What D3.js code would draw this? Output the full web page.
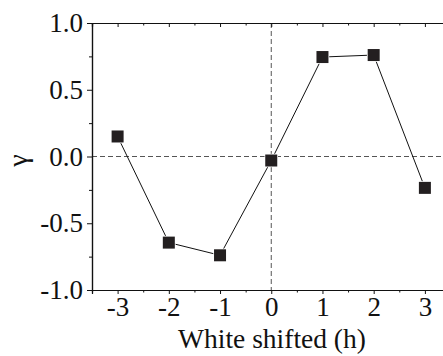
<!DOCTYPE html>
<html>
<head>
<meta charset="utf-8">
<script src="https://cdn.jsdelivr.net/npm/d3@7"></script>
<style>
  body { margin: 0; background: #fff; }
  svg { display: block; overflow: hidden; }
</style>
</head>
<body>
<svg id="chart" width="443" height="356"></svg>
<script>
// data
const shifts = [-3, -2, -1, 0, 1, 2, 3];
const gamma = [0.15, -0.645, -0.74, -0.03, 0.745, 0.76, -0.235];
const xTicks = [-3, -2, -1, 0, 1, 2, 3];
const yTicks = [-1.0, -0.5, 0.0, 0.5, 1.0];

const plotL = 92, plotT = 23, plotB = 290, plotR = 450.5;
const serif = "'Liberation Serif', 'Times New Roman', serif";

const svg = d3.select("#chart");

const x = d3.scaleLinear().domain([-3.5, 3.5]).range([plotL, plotR]);
const y = d3.scaleLinear().domain([-1, 1]).range([plotB, plotT]);

// zero reference lines
svg.append("line")
  .attr("x1", x(0)).attr("x2", x(0))
  .attr("y1", plotT).attr("y2", plotB)
  .attr("stroke", "#555").attr("stroke-width", 1)
  .attr("stroke-dasharray", "5,3");
svg.append("line")
  .attr("x1", plotL).attr("x2", plotR)
  .attr("y1", y(0)).attr("y2", y(0))
  .attr("stroke", "#555").attr("stroke-width", 1)
  .attr("stroke-dasharray", "5,3");

// axes
const minorX = d3.range(-3.5, 3.6, 0.5).filter(d => !xTicks.includes(d));
const minorY = d3.range(-1, 1.01, 0.25).map(d => +d.toFixed(2)).filter(d => !yTicks.includes(d));

const gx = svg.append("g").attr("transform", `translate(0,${plotB})`)
  .call(d3.axisBottom(x).tickValues(xTicks).tickSize(4).tickPadding(3).tickFormat(d => String(d)));
gx.append("g").call(d3.axisBottom(x).tickValues(minorX).tickSize(2.5).tickFormat(""));

const gt = svg.append("g").attr("transform", `translate(0,${plotT})`)
  .call(d3.axisBottom(x).tickValues(xTicks).tickSize(4).tickFormat(""));
gt.append("g").call(d3.axisBottom(x).tickValues(minorX).tickSize(2.5).tickFormat(""));

const gy = svg.append("g").attr("transform", `translate(${plotL},0)`)
  .call(d3.axisLeft(y).tickValues(yTicks).tickSize(5).tickPadding(4).tickFormat(d => d.toFixed(1)));
gy.append("g").call(d3.axisLeft(y).tickValues(minorY).tickSize(3).tickFormat(""));

svg.selectAll(".domain").attr("stroke", "#111").attr("stroke-width", 1.2);
svg.selectAll(".tick line").attr("stroke", "#111").attr("stroke-width", 1);
svg.selectAll(".tick text")
  .style("font-family", serif)
  .style("font-size", "27px")
  .attr("fill", "#111");

// series
const pts = shifts.map((s, i) => [s, gamma[i]]);
svg.append("path")
  .datum(pts)
  .attr("fill", "none")
  .attr("stroke", "#111")
  .attr("stroke-width", 1)
  .attr("d", d3.line().x(d => x(d[0])).y(d => y(d[1])));

const sz = 12;
svg.selectAll("rect.pt")
  .data(pts)
  .enter().append("rect")
  .attr("class", "pt")
  .attr("x", d => x(d[0]) - sz / 2)
  .attr("y", d => y(d[1]) - sz / 2)
  .attr("width", sz).attr("height", sz)
  .attr("fill", "#231f20")
  .attr("stroke", "#fff").attr("stroke-width", 1.5)
  .attr("paint-order", "stroke");

// axis titles
svg.append("text")
  .attr("x", 272).attr("y", 348)
  .attr("text-anchor", "middle")
  .style("font-family", serif)
  .style("font-size", "27.5px")
  .attr("fill", "#111")
  .text("White shifted (h)");

svg.append("text")
  .attr("transform", `translate(27,${y(0) + 4}) rotate(-90)`)
  .attr("text-anchor", "middle")
  .style("font-family", serif)
  .style("font-size", "28px")
  .attr("fill", "#111")
  .text("γ");
</script>
</body>
</html>
